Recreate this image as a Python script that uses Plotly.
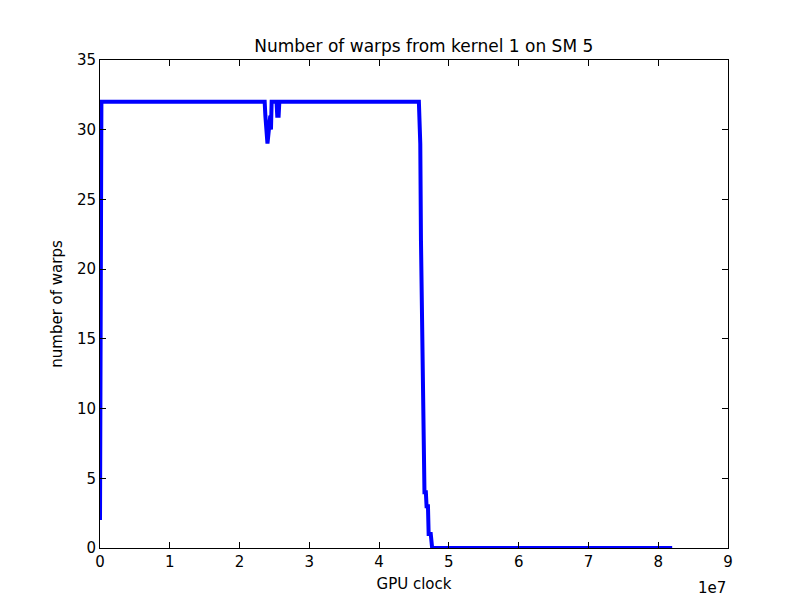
import plotly.graph_objects as go

# GPU clock (cycles) and number of warps
clock = [0, 0.02e7, 0.05e7, 2.36e7, 2.37e7, 2.38e7, 2.39e7, 2.40e7, 2.42e7, 2.44e7, 2.45e7, 2.46e7,
         2.53e7, 2.54e7, 2.56e7, 2.57e7, 4.57e7, 4.58e7, 4.59e7, 4.60e7, 4.62e7, 4.63e7, 4.64e7,
         4.65e7, 4.67e7, 4.68e7, 4.70e7, 4.71e7, 4.74e7, 4.75e7, 4.76e7, 8.2e7]
warps = [2, 32, 32, 32, 31, 30, 29, 29, 30, 31, 30, 32,
         32, 31, 31, 32, 32, 31, 29, 22, 12, 7, 5,
         4, 4, 3, 3, 1, 1, 0, 0, 0]

fig = go.Figure()
fig.add_trace(go.Scatter(x=clock, y=warps, mode="lines", line=dict(color="#0000ff", width=4)))

axis = dict(showgrid=False, zeroline=False, showline=True, linecolor="black", linewidth=1,
            mirror="ticks", ticks="inside", ticklen=6, tickcolor="black",
            tickfont=dict(size=15, color="black"), automargin=False)
fig.update_layout(
    width=792, height=592,
    paper_bgcolor="white", plot_bgcolor="white",
    font=dict(family="DejaVu Sans", color="black"),
    showlegend=False,
    title=dict(text="Number of warps from kernel 1 on SM 5", x=0.525, y=0.945,
               xanchor="center", font=dict(size=17)),
    margin=dict(l=92, r=72, t=52, b=52),
    xaxis=dict(axis, range=[0, 9e7], tickvals=[i * 1e7 for i in range(10)],
               ticktext=[str(i) for i in range(10)],
               title=dict(text="GPU clock", font=dict(size=15), standoff=8)),
    yaxis=dict(axis, range=[0, 35], dtick=5,
               title=dict(text="number of warps", font=dict(size=15), standoff=10)),
)
fig.add_annotation(text="1e7", xref="paper", yref="paper", x=1, y=-0.06,
                   xanchor="right", yanchor="top", showarrow=False, font=dict(size=15))

fig.write_html("out.html")
